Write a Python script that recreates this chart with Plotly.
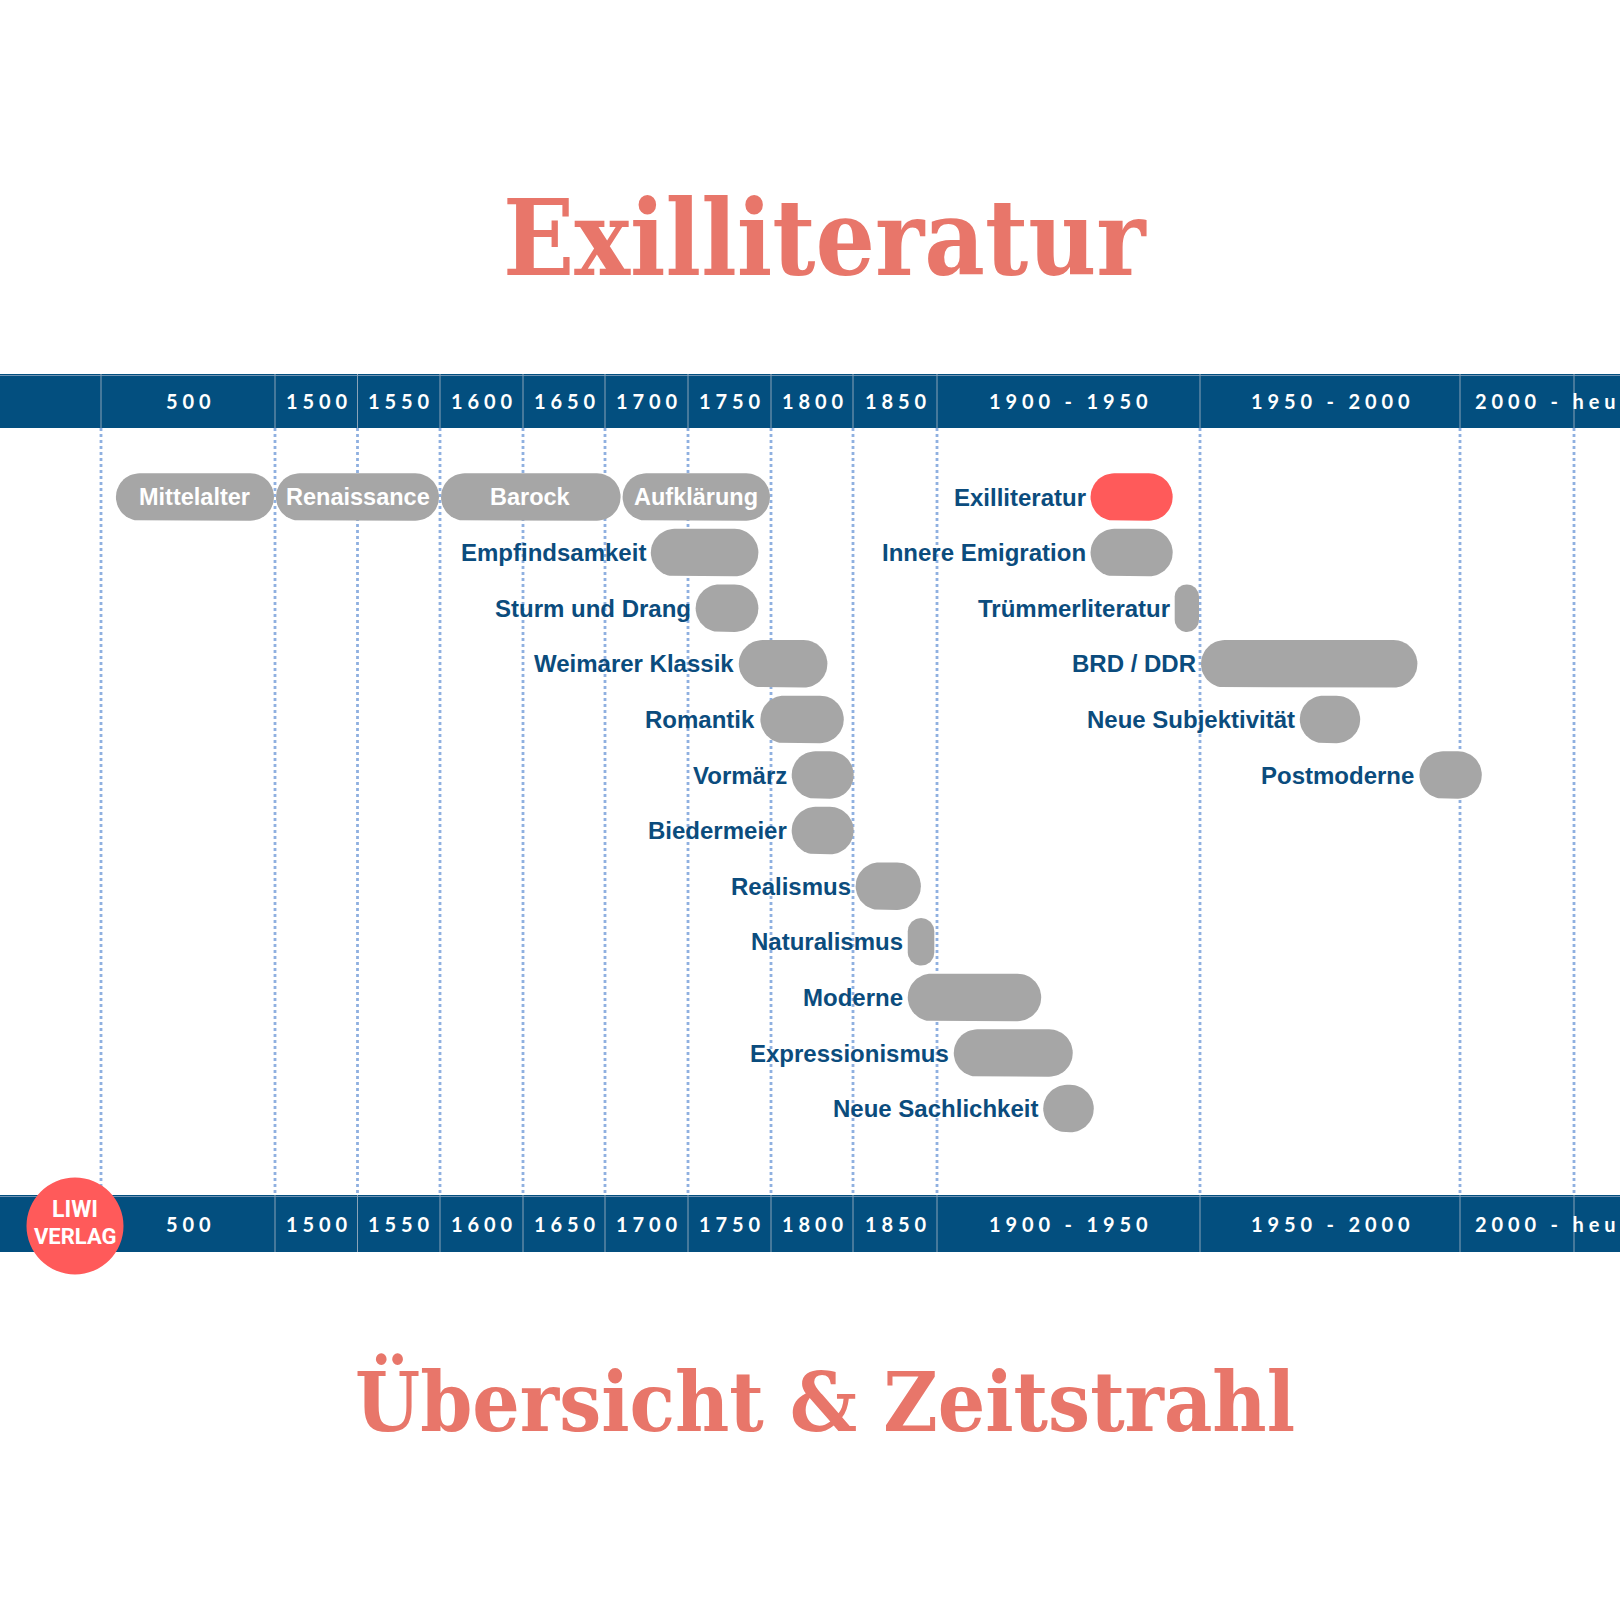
import numpy as np
import plotly.graph_objects as go

# ---------------- data ----------------
col_labels = ["500", "1500", "1550", "1600", "1650", "1700", "1750", "1800", "1850",
              "1900 - 1950", "1950 - 2000", "2000 - heute"]
col_years = [500, 1500, 1550, 1600, 1650, 1700, 1750, 1800, 1850, 1900, 1950, 2000, 2025]

epochs = ["Mittelalter", "Renaissance", "Barock", "Aufklärung", "Empfindsamkeit",
          "Sturm und Drang", "Weimarer Klassik", "Romantik", "Vormärz", "Biedermeier",
          "Realismus", "Naturalismus", "Moderne", "Expressionismus", "Neue Sachlichkeit",
          "Exilliteratur", "Innere Emigration", "Trümmerliteratur", "BRD / DDR",
          "Neue Subjektivität", "Postmoderne"]
start_year = [580, 1500, 1600, 1710, 1727, 1754, 1780, 1793, 1812, 1812, 1851, 1882, 1882,
              1903, 1920, 1929, 1929, 1945, 1950, 1969, 1992]
end_year = [1500, 1600, 1710, 1800, 1793, 1793, 1835, 1845, 1851, 1851, 1891, 1899, 1920,
            1926, 1930, 1945, 1945, 1950, 1992, 1981, 2005]
row = [0, 0, 0, 0, 1, 2, 3, 4, 5, 6, 7, 8, 9, 10, 11, 0, 1, 2, 3, 4, 5]
label_inside = ["Mittelalter", "Renaissance", "Barock", "Aufklärung"]
highlight = "Exilliteratur"

title = "Exilliteratur"
subtitle = "Übersicht & Zeitstrahl"
logo_lines = ["LIWI", "VERLAG"]

# ---------------- layout constants ----------------
W = H = 1620
edge_px = [101, 275, 357.5, 440, 523, 605, 688, 771, 853, 937, 1200, 1460, 1574]
ROW0 = 497.0      # px of first row centre
ROW_GAP = 55.6    # px between rows
BAR_H = 47.5
BAND_COLOR = "#034f7f"
TEXT_BLUE = "#0b4c7d"
GRAY = "#a6a6a6"
RED = "#ff5a5a"
SALMON = "#e8766a"
DOT = "#8fb0e0"

def tx(year):
    return float(np.interp(year, col_years, edge_px))

def py(px):  # paper y from pixel from top
    return 1 - px / H

fig = go.Figure()

# ---------------- pills ----------------
def pill(x0, x1, yc):
    x0 += 1
    x1 -= 1
    w = x1 - x0
    r = min(BAR_H / 2, w / 2)
    rx = r
    ry = r / ROW_GAP
    h = BAR_H / 2 / ROW_GAP
    xs, ys = [], []
    corners = [
        (x1 - rx, yc - h + ry, np.linspace(-np.pi / 2, 0, 16)),
        (x1 - rx, yc + h - ry, np.linspace(0, np.pi / 2, 16)),
        (x0 + rx, yc + h - ry, np.linspace(np.pi / 2, np.pi, 16)),
        (x0 + rx, yc - h + ry, np.linspace(np.pi, 1.5 * np.pi, 16)),
    ]
    for cx, cy, ang in corners:
        xs.extend(cx + rx * np.cos(ang))
        ys.extend(cy + ry * np.sin(ang))
    xs.append(xs[0])
    ys.append(ys[0])
    return xs, ys

for name, s, e, r in zip(epochs, start_year, end_year, row):
    xs, ys = pill(tx(s), tx(e), r)
    fig.add_trace(go.Scatter(
        x=xs, y=ys, mode="lines", fill="toself",
        fillcolor=RED if name == highlight else GRAY,
        line=dict(width=0), hoverinfo="skip", showlegend=False))

# ---------------- dotted grid lines ----------------
for yr in col_years:
    fig.add_shape(type="line", xref="x", yref="paper", x0=tx(yr), x1=tx(yr),
                  y0=py(428), y1=py(1195), line=dict(color=DOT, width=2.8, dash="dot"),
                  layer="below")

# ---------------- bands ----------------
for (top, bot) in [(374, 428), (1195, 1252)]:
    fig.add_shape(type="rect", xref="paper", yref="paper", x0=0, x1=1,
                  y0=py(bot), y1=py(top), fillcolor=BAND_COLOR, line=dict(width=0),
                  layer="below")
    fig.add_shape(type="line", xref="paper", yref="paper", x0=0, x1=1,
                  y0=py(top + 1.5), y1=py(top + 1.5), line=dict(color="#6f93b3", width=1),
                  layer="below")
    for yr in col_years:
        fig.add_shape(type="line", xref="x", yref="paper", x0=tx(yr), x1=tx(yr),
                      y0=py(bot), y1=py(top), line=dict(color="#8aa3b8", width=1),
                      layer="below")
    ymid = py((top + bot) / 2)
    for i, lab in enumerate(col_labels):
        parts = lab.split(" - ")
        spaced = "\u00a0\u00a0\u00a0-\u00a0\u00a0\u00a0".join("\u00a0".join(list(p)) for p in parts)
        fnt = dict(family="Lato, DejaVu Sans", size=20, color="white", weight="bold")
        if i == len(col_labels) - 1:
            fig.add_annotation(x=tx(col_years[i]) + 13, y=ymid, xref="x", yref="paper",
                               text=spaced, showarrow=False, xanchor="left", yanchor="middle",
                               font=fnt)
        else:
            xc = (tx(col_years[i]) + tx(col_years[i + 1])) / 2
            fig.add_annotation(x=xc, y=ymid, xref="x", yref="paper",
                               text=spaced, showarrow=False, xanchor="center", yanchor="middle",
                               font=fnt)

# ---------------- labels ----------------
for name, s, e, r in zip(epochs, start_year, end_year, row):
    if name in label_inside:
        fig.add_annotation(x=(tx(s) + tx(e)) / 2, y=r, text="<b>%s</b>" % name,
                           showarrow=False, xanchor="center", yanchor="middle",
                           font=dict(family="Liberation Sans, Arial", size=23.5, color="white"))
    else:
        fig.add_annotation(x=tx(s), y=r, text="<b>%s</b>" % name, xshift=-2,
                           showarrow=False, xanchor="right", yanchor="middle",
                           font=dict(family="Liberation Sans, Arial", size=24, color=TEXT_BLUE))

# ---------------- logo ----------------
cx, cy, rad = 75, 1226, 48.5
fig.add_shape(type="circle", xref="paper", yref="paper",
              x0=(cx - rad) / W, x1=(cx + rad) / W, y0=py(cy + rad), y1=py(cy - rad),
              fillcolor=RED, line=dict(width=0), layer="above")
fig.add_annotation(x=cx / W, y=py(cy - 17), xref="paper", yref="paper",
                   text="<b>%s</b>" % logo_lines[0], showarrow=False,
                   xanchor="center", yanchor="middle",
                   font=dict(family="Roboto, Liberation Sans", size=23, color="white"))
fig.add_annotation(x=cx / W, y=py(cy + 10), xref="paper", yref="paper",
                   text="<b>%s</b>" % logo_lines[1], showarrow=False,
                   xanchor="center", yanchor="middle",
                   font=dict(family="Roboto, Liberation Sans", size=22, color="white"))

# ---------------- titles ----------------
fig.add_annotation(x=825 / W, y=py(238), xref="paper", yref="paper",
                   text="<b>%s</b>" % title, showarrow=False, xanchor="center", yanchor="middle",
                   font=dict(family="DejaVu Serif Condensed, DejaVu Serif", size=104, color=SALMON))
fig.add_annotation(x=825 / W, y=py(1402), xref="paper", yref="paper",
                   text="<b>%s</b>" % subtitle, showarrow=False, xanchor="center", yanchor="middle",
                   font=dict(family="DejaVu Serif Condensed, DejaVu Serif", size=83, color=SALMON))

fig.update_layout(
    width=W, height=H, margin=dict(l=0, r=0, t=0, b=0),
    paper_bgcolor="white", plot_bgcolor="white",
    xaxis=dict(range=[0, W], visible=False, fixedrange=True),
    yaxis=dict(range=[(H - ROW0) / ROW_GAP, -ROW0 / ROW_GAP], visible=False, fixedrange=True),
    showlegend=False,
)

fig.write_html("out.html", config={"displayModeBar": False},
               post_script="document.body.style.margin='0';")
